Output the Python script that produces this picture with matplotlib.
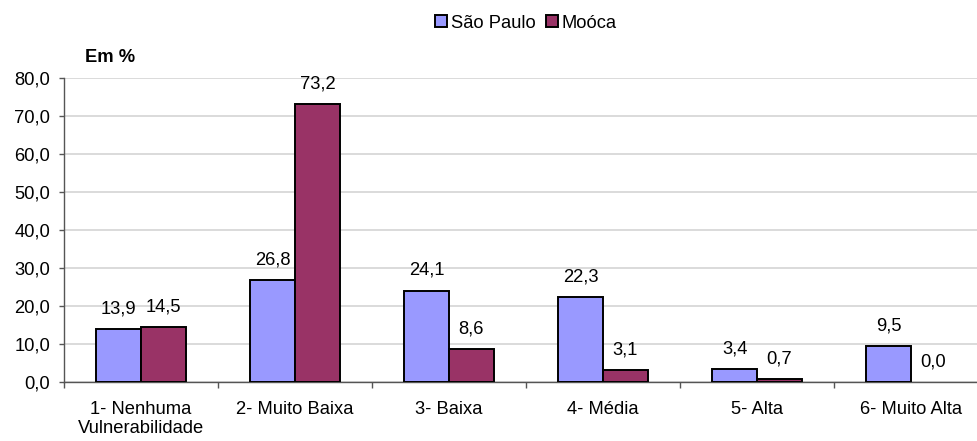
import matplotlib
matplotlib.use("Agg")
import matplotlib.pyplot as plt
import numpy as np

plt.rcParams['font.family'] = ['Liberation Sans', 'DejaVu Sans']

categories = ["1- Nenhuma\nVulnerabilidade", "2- Muito Baixa", "3- Baixa", "4- Média", "5- Alta", "6- Muito Alta"]
sao_paulo = [13.9, 26.8, 24.1, 22.3, 3.4, 9.5]
mooca = [14.5, 73.2, 8.6, 3.1, 0.7, 0.0]
series_names = ["São Paulo", "Moóca"]
yticks = [0, 10, 20, 30, 40, 50, 60, 70, 80]

W, H = 977, 441
fig = plt.figure(figsize=(W / 100, H / 100), dpi=100)
ax_left, ax_right, ax_top, ax_bot = 64, 988, 78.3, 382
ax = fig.add_axes([ax_left / W, 1 - ax_bot / H, (ax_right - ax_left) / W, (ax_bot - ax_top) / H])

x = np.arange(len(categories))
w = 0.29
fs = 13.2
b1 = ax.bar(x - w/2, sao_paulo, w, color="#9999FF", edgecolor="black", linewidth=1.4,
            label=series_names[0], zorder=3)
b2 = ax.bar(x + w/2, mooca, w, color="#993366", edgecolor="black", linewidth=1.4,
            label=series_names[1], zorder=3)
for r, v in zip(b2, mooca):
    if v == 0:
        r.set_linewidth(0)

def fmt(v):
    return f"{v:.1f}".replace(".", ",")

for rects, vals in ((b1, sao_paulo), (b2, mooca)):
    for r, v in zip(rects, vals):
        ax.annotate(fmt(v), (r.get_x() + r.get_width() / 2, v), xytext=(0, 14.5),
                    textcoords="offset points", ha="center", va="center", fontsize=fs,
                    annotation_clip=False)

ax.set_xlim(-0.5, len(categories) - 0.5)
ax.set_ylim(0, 80)
ax.set_yticks(yticks)
ax.set_yticklabels([fmt(t) for t in yticks], fontsize=fs)
ax.yaxis.grid(True, color="#d4d4d4", linewidth=1.2, zorder=0)
ax.set_axisbelow(True)

ax.set_xticks(np.arange(len(categories) + 1) - 0.5)
ax.set_xticklabels([])
ax.set_xticks(x, minor=True)
ax.set_xticklabels(categories, minor=True, fontsize=fs, linespacing=1.15)
ax.tick_params(axis="x", which="minor", length=0, pad=13.5)
ax.tick_params(axis="x", which="major", length=4.5, width=1, direction="out", color="#555555")
ax.tick_params(axis="y", length=3.6, width=1, pad=6.5, direction="out", color="#555555")

for s in ("top", "right"):
    ax.spines[s].set_visible(False)
ax.spines["left"].set_color("#555555")
ax.spines["bottom"].set_color("#555555")
ax.spines["left"].set_linewidth(1)
ax.spines["bottom"].set_linewidth(1)

fig.text(110 / W, 1 - 58 / H, "Em %", fontsize=fs, fontweight="bold", ha="center", va="center")

leg = fig.legend(handles=[b1, b2], labels=series_names, loc="center", bbox_to_anchor=(526 / W, 1 - 23 / H),
                 ncol=2, frameon=False, fontsize=fs, handlelength=0.65, handleheight=0.65,
                 handletextpad=0.2, columnspacing=0.6, borderpad=0, borderaxespad=0)

fig.savefig("out.png", dpi=100)
